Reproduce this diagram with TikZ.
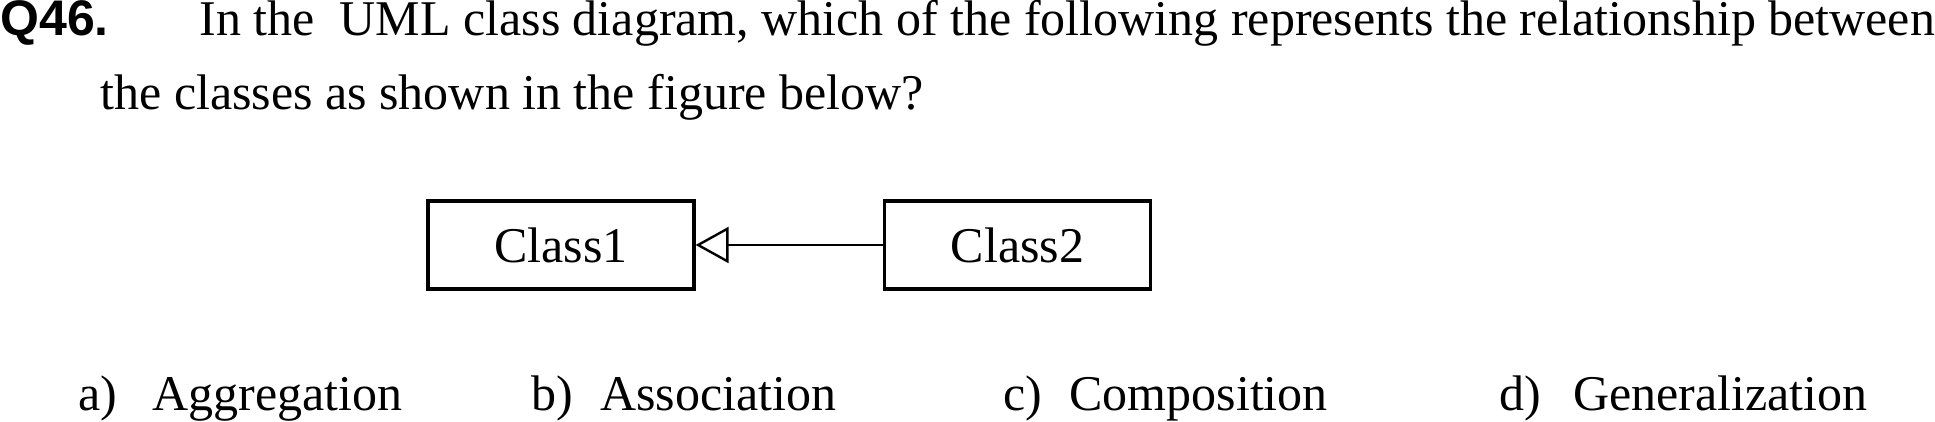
\documentclass[tikz,border=0pt]{standalone}
\usepackage{fontspec}
\setmainfont{Liberation Serif}
\newfontfamily\qfont{Liberation Sans}
\usetikzlibrary{arrows.meta}
\begin{document}
\begin{tikzpicture}[x=0.5pt,y=-0.5pt,
  txt/.style={anchor=base west,inner sep=0pt,font=\fontsize{25}{30}\selectfont},
  classbox/.style={draw,line width=1.6pt,minimum width=133pt,minimum height=44pt,
    inner sep=0pt,font=\fontsize{25}{30}\selectfont}]
  \useasboundingbox (0,0) rectangle (1935,422);
  % question
  \node[txt,font=\fontsize{25}{30}\qfont\bfseries] (qnum) at (0,36) {Q46.};
  \node[txt] (line1) at (199,36) {In the\ \ UML class diagram, which of the following represents the relationship between};
  \node[txt] (line2) at (100,110) {the classes as shown in the figure below?};
  % classes
  \node[classbox] (c1) at (561,245) {Class1};
  \node[classbox] (c2) at (1017.5,245) {Class2};
  \draw[line width=1.2pt,-{Triangle[open,length=16.5pt,width=18pt,line width=1.2pt]}] (c2.west) -- (c1.east);
  % answers
  \node[txt] (oa) at (78,411) {a)};
  \node[txt] (ta) at (152,411) {Aggregation};
  \node[txt] (ob) at (531,411) {b)};
  \node[txt] (tb) at (600,411) {Association};
  \node[txt] (oc) at (1003,411) {c)};
  \node[txt] (tc) at (1069,411) {Composition};
  \node[txt] (od) at (1499,411) {d)};
  \node[txt] (td) at (1573,411) {Generalization};
\end{tikzpicture}
\end{document}
